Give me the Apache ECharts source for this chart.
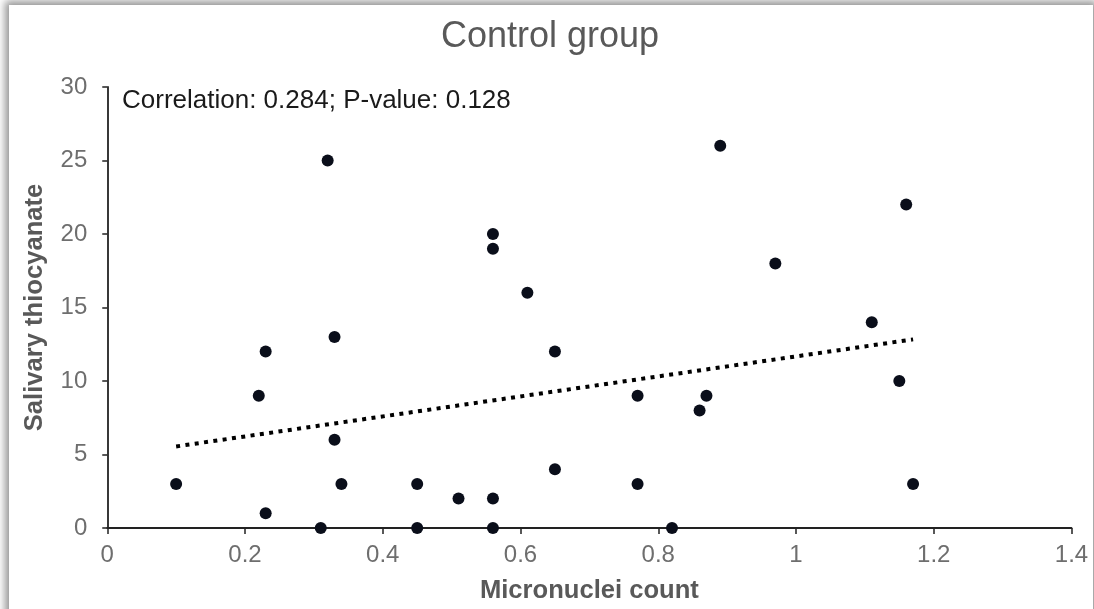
<!DOCTYPE html>
<html>
<head>
<meta charset="utf-8">
<title>Control group</title>
<script src="https://cdn.jsdelivr.net/npm/echarts@6/dist/echarts.min.js"></script>
<style>
  html, body { margin: 0; padding: 0; background: #ffffff; overflow: hidden; }
  #card {
    position: absolute; left: 9px; top: 5px; width: 1084px; height: 720px;
    background: #ffffff;
    box-shadow: 0 0 8px 4px rgba(0, 0, 0, 0.42);
  }
  #chart { position: absolute; left: 0; top: 0; width: 1094px; height: 609px; }
</style>
</head>
<body>
<div id="card"></div>
<div id="chart"></div>
<script>
// Micronuclei count (x) and salivary thiocyanate (y) per subject
const microCount = [0.10, 0.23, 0.22, 0.23, 0.32, 0.33, 0.33, 0.34, 0.31, 0.45,
                    0.45, 0.51, 0.56, 0.56, 0.56, 0.56, 0.61, 0.65, 0.65, 0.77,
                    0.77, 0.82, 0.86, 0.87, 0.89, 0.97, 1.11, 1.15, 1.16, 1.17];
const thiocyanate = [3, 1, 9, 12, 25, 13, 6, 3, 0, 3,
                     0, 2, 20, 19, 2, 0, 16, 12, 4, 9,
                     3, 0, 8, 9, 26, 18, 14, 10, 22, 3];

const xTicks = [0, 0.2, 0.4, 0.6, 0.8, 1, 1.2, 1.4];
const yTicks = [0, 5, 10, 15, 20, 25, 30];
const statsText = 'Correlation: 0.284; P-value: 0.128';

const points = microCount.map((x, i) => [x, thiocyanate[i]]);

// Ordinary least-squares line through the points, drawn across the data range
const n = points.length;
const mx = microCount.reduce((a, b) => a + b, 0) / n;
const my = thiocyanate.reduce((a, b) => a + b, 0) / n;
let sxy = 0, sxx = 0;
for (let i = 0; i < n; i++) {
  sxy += (microCount[i] - mx) * (thiocyanate[i] - my);
  sxx += (microCount[i] - mx) * (microCount[i] - mx);
}
const slope = sxy / sxx;
const intercept = my - slope * mx;
const xLo = Math.min(...microCount), xHi = Math.max(...microCount);
const fitLine = [[xLo, intercept + slope * xLo], [xHi, intercept + slope * xHi]];

const FONT = 'Liberation Sans, Arial, sans-serif';
const chart = echarts.init(document.getElementById('chart'), null, { renderer: 'canvas' });

chart.setOption({
  backgroundColor: 'transparent',
  animation: false,
  title: [
    {
      text: 'Control group',
      left: 441, top: 19, padding: 0,
      textStyle: { fontFamily: FONT, fontSize: 36, fontWeight: 'normal', color: '#595959' }
    },
    {
      text: statsText,
      left: 122, top: 88, padding: 0,
      textStyle: { fontFamily: FONT, fontSize: 26, fontWeight: 'normal', color: '#1a1a1a' }
    }
  ],
  grid: { left: 107.25, right: 22.5, top: 87, bottom: 81, containLabel: false },
  xAxis: {
    type: 'value',
    min: xTicks[0], max: xTicks[xTicks.length - 1], interval: 0.2,
    name: 'Micronuclei count',
    nameLocation: 'middle', nameGap: 50,
    nameTextStyle: { fontFamily: FONT, fontSize: 25.6, fontWeight: 'bold', color: '#595959' },
    axisLine: { show: true, onZero: false, lineStyle: { color: '#222222', width: 1.8 } },
    axisTick: { show: true, inside: false, length: 6, lineStyle: { color: '#222222', width: 1.5 } },
    axisLabel: {
      margin: 15, fontFamily: FONT, fontSize: 24, color: '#6e6e6e',
      formatter: v => String(parseFloat(v.toFixed(1)))
    },
    splitLine: { show: false }
  },
  yAxis: {
    type: 'value',
    min: yTicks[0], max: yTicks[yTicks.length - 1], interval: 5,
    name: 'Salivary thiocyanate',
    nameLocation: 'middle', nameGap: 59, nameRotate: 90,
    nameTextStyle: { fontFamily: FONT, fontSize: 25.6, fontWeight: 'bold', color: '#595959' },
    axisLine: { show: true, onZero: false, lineStyle: { color: '#222222', width: 1.8 } },
    axisTick: { show: true, inside: false, length: 5, lineStyle: { color: '#222222', width: 1.5 } },
    axisLabel: { margin: 20, fontFamily: FONT, fontSize: 24, color: '#6e6e6e' },
    splitLine: { show: false }
  },
  series: [
    {
      name: 'Trend',
      type: 'line',
      data: fitLine,
      symbol: 'none',
      silent: true,
      z: 2,
      lineStyle: { color: '#000000', width: 4, type: [4, 5.4], cap: 'butt' }
    },
    {
      name: 'Subjects',
      type: 'scatter',
      data: points,
      symbol: 'circle',
      symbolSize: 12,
      z: 3,
      itemStyle: { color: '#0a0e1a', opacity: 1 }
    }
  ]
});
</script>
</body>
</html>
